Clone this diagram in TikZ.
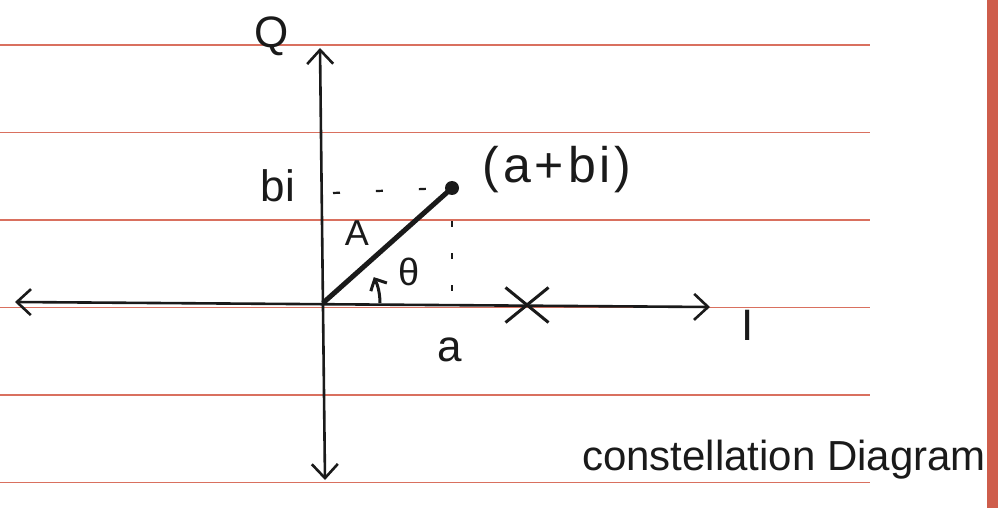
\documentclass[tikz,border=0pt]{standalone}
\usepackage{fontspec}
\setmainfont{Liberation Sans}
\usetikzlibrary{arrows.meta,shapes.misc}
\definecolor{rulered}{HTML}{D9705F}
\definecolor{marginred}{HTML}{CE5D4B}
\definecolor{ink}{HTML}{1A1A1A}
\tikzset{
  hand/.style={font=\fontsize{44}{44}\selectfont, inner sep=0pt, text=ink},
  axisline/.style={draw=ink, line width=2.6pt, {Straight Barb[length=14pt,width=26pt,line width=2.6pt]}-{Straight Barb[length=14pt,width=26pt,line width=2.6pt]}},
  hguide/.style={draw=ink, line width=2.2pt, dash pattern=on 7pt off 36pt},
  vguide/.style={draw=ink, line width=2.2pt, dash pattern=on 6pt off 26pt},
  paperline/.style={draw=rulered, line width=1.6pt},
}
\begin{document}
\begin{tikzpicture}[x=1pt,y=-1pt]
\useasboundingbox (0,0) rectangle (1005,508);
\fill[white] (0,0) rectangle (1005,508);
% ruled paper
\foreach \yy in {45,132.5,220,307.5,395,482.5} \draw[paperline] (0,\yy) -- (870,\yy);
\fill[marginred] (987,0) rectangle (998,508);
% coordinates
\coordinate (O) at (323,303);
\coordinate (top) at (320,48);
\coordinate (bottom) at (325,480);
\coordinate (left) at (15,302);
\coordinate (right) at (710,307);
\coordinate (bimark) at (333,193);
% axes
\draw[axisline] (left) -- (right);
\draw[axisline] (bottom) -- (top);
% labels
\node[hand] (Q) at (272,36) {Q};
\node[hand] (I) at (748,325) {I};
\node[hand] (bi) at (278,186) {bi};
\node[hand] (a) at (450,350) {a};
\node[hand, font=\fontsize{36}{36}\selectfont] (A) at (357,233) {A};
\node[hand, font=\fontsize{38}{38}\selectfont] (th) at (409,272) {θ};
\node[hand, font=\fontsize{50}{50}\selectfont\addfontfeatures{LetterSpace=8}] (abi) at (557,170) {(a+bi)};
\node[hand, font=\fontsize{42}{42}\selectfont] (cap) at (784,460) {constellation Diagram};
% point and vector
\node[circle, fill=ink, inner sep=0pt, minimum size=14pt] (P) at (452,188) {};
\draw[ink, line width=5pt] (O) -- (P.center);
\draw[hguide] (bimark) -- (P.west);
\draw[vguide] ([yshift=6pt]P.south) -- (P |- O);
% angle arrow
\draw[ink, line width=3pt, -{Straight Barb[length=9pt,width=18pt,line width=3pt]}] ([shift={(0:57)}]O) arc[start angle=0, end angle=-27, radius=57];
% cross mark
\node[draw=ink, cross out, line width=3pt, minimum width=40pt, minimum height=32pt, inner sep=0pt] (X) at (527,305) {};
\end{tikzpicture}
\end{document}
